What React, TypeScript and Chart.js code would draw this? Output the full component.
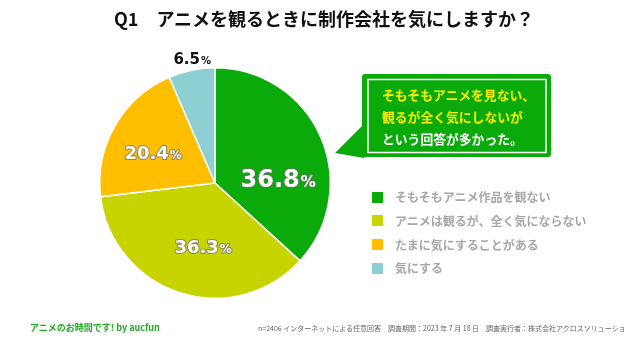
import React, { useEffect, useRef } from "react";
import { Chart, registerables } from "chart.js";

Chart.register(...registerables);

const categories = [
  "そもそもアニメ作品を観ない",
  "アニメは観るが、全く気にならない",
  "たまに気にすることがある",
  "気にする",
];
const values = [36.8, 36.3, 20.4, 6.5];
const colors = ["#0AAA0A", "#C8D400", "#FFBE00", "#8ECFD4"];

const titleText = "Q1　アニメを観るときに制作会社を気にしますか？";
const calloutLines = ["そもそもアニメを見ない、", "観るが全く気にしないが", "という回答が多かった。"];
const footerLeft = "アニメのお時間です! by aucfun";
const footerRight =
  "n=2406 インターネットによる任意回答　調査期間：2023 年 7 月 18 日　調査実行者：株式会社アクロスソリューションズ";

// label styling (per slice)
const labelAngleNudge = [19.5, -7.2, -3.3, 1.3];
const labelRadius = [0.55, 0.56, 0.6, 1.095];
const labelNumSize = [24, 18, 18, 15];
const labelPctSize = [15, 12, 12, 10];
const labelColor = ["#fff", "#fff", "#fff", "#111"];
const labelStroke = [true, true, true, false];

const labelPlugin = {
  id: "sliceLabels",
  afterDatasetsDraw(chart: any) {
    const ctx = chart.ctx;
    const meta = chart.getDatasetMeta(0);
    meta.data.forEach((arc: any, i: number) => {
      const p = arc.getProps(["x", "y", "startAngle", "endAngle", "outerRadius"], true);
      const mid = (p.startAngle + p.endAngle) / 2 + (labelAngleNudge[i] * Math.PI) / 180;
      const r = p.outerRadius * labelRadius[i];
      const x = p.x + Math.cos(mid) * r;
      const y = p.y + Math.sin(mid) * r;
      const num = values[i].toFixed(1);
      const numFont = `bold ${labelNumSize[i]}px "DejaVu Sans", sans-serif`;
      const pctFont = `bold ${labelPctSize[i]}px "DejaVu Sans", sans-serif`;
      ctx.save();
      ctx.font = numFont;
      const wn = ctx.measureText(num).width;
      ctx.font = pctFont;
      const wp = ctx.measureText("%").width;
      const total = wn + wp + 1;
      const x0 = x - total / 2;
      const baseY = y + labelNumSize[i] * 0.36;
      ctx.textAlign = "left";
      ctx.textBaseline = "alphabetic";
      ctx.lineJoin = "round";
      const parts: [string, string, number][] = [
        [num, numFont, x0],
        ["%", pctFont, x0 + wn + 1],
      ];
      parts.forEach(([t, f, px]) => {
        ctx.font = f;
        if (labelStroke[i]) {
          ctx.strokeStyle = "rgba(110,110,110,0.75)";
          ctx.lineWidth = 2;
          ctx.strokeText(t, px, baseY);
        }
        ctx.fillStyle = labelColor[i];
        ctx.fillText(t, px, baseY);
      });
      ctx.restore();
    });
  },
};

export default function App() {
  const ref = useRef<HTMLCanvasElement | null>(null);
  useEffect(() => {
    if (!ref.current) return;
    const chart = new Chart(ref.current, {
      type: "pie",
      data: {
        labels: categories,
        datasets: [
          {
            data: values,
            backgroundColor: colors,
            borderColor: "#ffffff",
            borderWidth: 1.5,
          },
        ],
      },
      options: {
        responsive: false,
        maintainAspectRatio: false,
        animation: false,
        layout: { padding: { left: 99, right: 293, top: 67, bottom: 44 } },
        plugins: {
          legend: { display: false },
          title: { display: false },
          tooltip: { enabled: false },
        },
      },
      plugins: [labelPlugin],
    });
    return () => chart.destroy();
  }, []);

  const jp = '"Noto Sans CJK JP", "Noto Sans", sans-serif';

  return (
    <div
      style={{
        position: "fixed",
        left: 0,
        top: 0,
        width: 624,
        height: 343,
        background: "#fff",
        overflow: "hidden",
        fontFamily: jp,
      }}
    >
      <canvas ref={ref} width={624} height={343} style={{ position: "absolute", left: 0, top: 0 }} />
      <div
        style={{
          position: "absolute",
          left: 0,
          top: 6,
          width: 648,
          textAlign: "center",
          fontSize: 18,
          fontWeight: 700,
          color: "#111",
          lineHeight: "24px",
          whiteSpace: "nowrap",
        }}
      >
        {titleText}
      </div>

      {/* callout */}
      <svg width={624} height={343} style={{ position: "absolute", left: 0, top: 0 }}>
        <polygon points="364,124 335,153 364,158" fill={colors[0]} />
        <rect x={362} y={74} width={189} height={83} rx={3} fill={colors[0]} />
        <rect x={368} y={79.5} width={178} height={73} fill="none" stroke="#fff" strokeWidth={1.5} />
      </svg>
      <div
        style={{
          position: "absolute",
          left: 382,
          top: 84,
          fontSize: 12.8,
          fontWeight: 700,
          lineHeight: "22px",
          whiteSpace: "nowrap",
        }}
      >
        {calloutLines.map((l, i) => (
          <div key={i} style={{ color: i < 2 ? "#F7F000" : "#fff" }}>
            {l}
          </div>
        ))}
      </div>

      {/* legend */}
      {categories.map((c, i) => (
        <div
          key={c}
          style={{
            position: "absolute",
            left: 372,
            top: 190 + i * 23.8,
            height: 14,
            display: "flex",
            alignItems: "center",
            whiteSpace: "nowrap",
          }}
        >
          <div style={{ width: 11, height: 11, background: colors[i], marginRight: 12 }} />
          <span style={{ fontSize: 12, color: "#a8a8a8", fontWeight: 700, lineHeight: "14px" }}>{c}</span>
        </div>
      ))}

      {/* footer */}
      <div
        style={{
          position: "absolute",
          left: 30,
          top: 322,
          fontSize: 9,
          fontWeight: 700,
          color: "#22AA22",
          whiteSpace: "nowrap",
          lineHeight: "12px",
        }}
      >
        {footerLeft}
      </div>
      <div
        style={{
          position: "absolute",
          left: 258,
          top: 323,
          fontSize: 7,
          color: "#666",
          whiteSpace: "nowrap",
          lineHeight: "10px",
        }}
      >
        {footerRight}
      </div>
    </div>
  );
}
